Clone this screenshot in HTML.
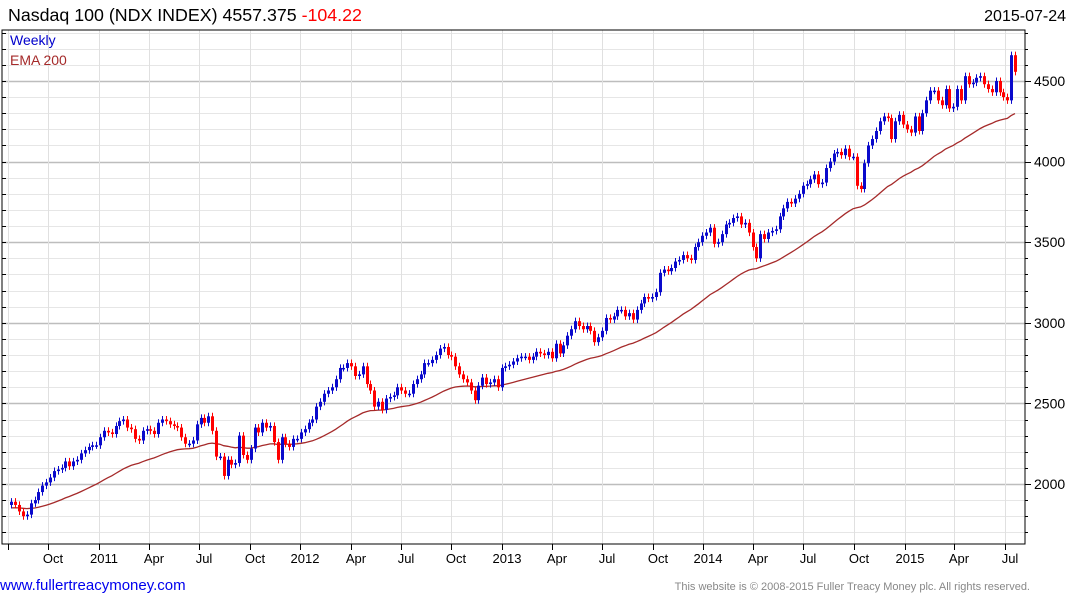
<!DOCTYPE html>
<html><head><meta charset="utf-8"><style>
html,body{margin:0;padding:0;background:#fff;width:1075px;height:600px;overflow:hidden}
svg text{font-family:"Liberation Sans",Arial,sans-serif}
</style></head><body>
<svg id="chart" width="1075" height="600" xmlns="http://www.w3.org/2000/svg">
<text x="8" y="21" font-size="17.8" fill="#000">Nasdaq 100 (NDX INDEX) 4557.375 <tspan fill="#ff0000">-104.22</tspan></text>
<text x="1066" y="21" font-size="16" text-anchor="end" fill="#000">2015-07-24</text>
<g id="grid"></g>
<g id="ema"></g>
<g id="candles"></g>
<rect x="2" y="30" width="1023" height="514" fill="none" stroke="#000" stroke-width="1"/>
<g id="axes"></g>
<text x="10" y="45" font-size="14" fill="#0000cc">Weekly</text>
<text x="10" y="65" font-size="14" fill="#a52a2a">EMA 200</text>
<text x="0" y="590" font-size="15" fill="#0000ee">www.fullertreacymoney.com</text>
<text x="1030" y="590" font-size="11" text-anchor="end" fill="#888">This website is © 2008-2015 Fuller Treacy Money plc. All rights reserved.</text>
</svg>
<script>
const closes2010 = [1890, 1870,1830,1800,1810, 1880,1900,1950,1990, 2010,2040,2080,2090,2100, 2140,2110,2140,2150, 2190,2210,2230,2240,2240];
const closes2011 = [2290,2330,2320,2310, 2360,2390,2400,2350, 2340,2280,2270,2330, 2340,2330,2310,2380,2400, 2390,2370,2360,2350, 2290,2250,2250,2270, 2370,2410,2380,2420,2330, 2170,2170,2050,2150, 2120,2130,2300,2180,2150, 2220,2350,2320,2380, 2350,2360,2260,2150, 2290,2250,2230,2280,2280];
const closes2012 = [2320,2340,2380,2400, 2480,2510,2560,2580, 2600,2650,2720,2720,2750, 2730,2670,2680,2730, 2620,2580,2480,2510, 2460,2530,2540,2550,2600, 2580,2560,2560,2620, 2650,2680,2750,2750,2770, 2800,2840,2850,2800, 2790,2730,2680,2650, 2630,2580,2520,2610,2660, 2620,2630,2650,2600];
const closes2013 = [2720,2730,2740,2760, 2780,2790,2790,2770, 2790,2820,2810,2800,2820, 2780,2870,2810,2860, 2920,2960,3010,2980,2960, 2980,2950,2880,2910, 2950,3030,3020,3040, 3080,3080,3040,3060,3020, 3080,3120,3160,3150, 3160,3190,3310,3330, 3320,3340,3380,3390,3420, 3400,3390,3470,3500];
const closes2014 = [3540,3560,3590,3490,3500, 3550,3610,3620,3650, 3660,3610,3620,3560, 3470,3400,3550,3520, 3560,3570,3580,3660,3710, 3750,3740,3770,3800, 3850,3860,3890,3920, 3860,3870,3960,4000,4050, 4060,4040,4080,4030, 4030,3850,3830,3990,4100, 4140,4190,4250,4280, 4270,4140,4250,4290];
const closes2015 = [4230,4200,4180,4280,4190, 4300,4380,4440,4440, 4380,4350,4450,4330, 4340,4450,4380,4530, 4480,4490,4520,4530,4480, 4450,4430,4500,4430, 4400,4380,4660,4557];
const firstOpen = 1870;
const emaSeed = 1850;
const emaPeriod = 44;
const yTicks = [2000,2500,3000,3500,4000,4500];
const xTickLabels = ["","Oct","2011","Apr","Jul","Oct","2012","Apr","Jul","Oct","2013","Apr","Jul","Oct","2014","Apr","Jul","Oct","2015","Apr","Jul"];
const xTickDates = ["2010-07-20","2010-10-01","2011-01-01","2011-04-01","2011-07-01","2011-10-01","2012-01-01","2012-04-01","2012-07-01","2012-10-01","2013-01-01","2013-04-01","2013-07-01","2013-10-01","2014-01-01","2014-04-01","2014-07-01","2014-10-01","2015-01-01","2015-04-01","2015-07-01"];

const closes = [].concat(closes2010,closes2011,closes2012,closes2013,closes2014,closes2015);
const N = closes.length;
const NS="http://www.w3.org/2000/svg";
const xLast=1015, step=3.86;
const yScale = v => 484 - (v-2000)*0.1612;
const xIdx = i => xLast - (N-1-i)*step;
const lastDate = Date.UTC(2015,6,20);
const xDate = s => { const p=s.split('-'); const d=Date.UTC(+p[0],+p[1]-1,+p[2]); return xLast + (d-lastDate)/86400000/7*step; };
function mk(tag,attrs,parent){const e=document.createElementNS(NS,tag);for(const k in attrs)e.setAttribute(k,attrs[k]);parent.appendChild(e);return e;}
const grid=document.getElementById('grid'), axes=document.getElementById('axes');
for(let v=1700; v<=4800; v+=100){
  const y=Math.round(yScale(v))+0.5;
  if(y<30||y>544) continue;
  const major = v%500===0;
  const l=mk('line',{x1:2,x2:1025,y1:y,y2:y,stroke:major?'#bdbdbd':'#e6e6e6','stroke-width':major?1.5:1},grid);
  
  
  const t1=mk('line',{x1:1025,x2:major?1031:1028,y1:y,y2:y,stroke:'#000'},axes);
  
  
  const t2=mk('line',{x1:2,x2:6,y1:y,y2:y,stroke:'#000'},axes);
  
  
}
yTicks.forEach(v=>{
  const t=mk('text',{x:1034,y:yScale(v)+5,'font-size':14,fill:'#000'},axes);
  t.textContent=v;
  
  
});
xTickDates.forEach((d,i)=>{
  const x=Math.round(xDate(d))+0.5;
  const l=mk('line',{x1:x,x2:x,y1:30,y2:544,stroke:'#e0e0e0'},grid);
  
  
  const tk=mk('line',{x1:x,x2:x,y1:544,y2:550,stroke:'#000'},axes);
  
  
  if(xTickLabels[i]){
    const t=mk('text',{x:x+4.5,y:563,'font-size':13,'text-anchor':'middle',fill:'#000'},axes);
    t.textContent=xTickLabels[i];
    
    
  }
});
const cg=document.getElementById('candles');
let prev=firstOpen;
for(let i=0;i<N;i++){
  const o=prev, c=closes[i];
  const up=c>=o, col=up?'#0a0acc':'#ff0000';
  const hi=Math.max(o,c)+22, lo=Math.min(o,c)-22;
  const x=Math.round(xIdx(i));
  const g=mk('g',{},cg);
  
  
  mk('line',{x1:x+0.5,x2:x+0.5,y1:yScale(hi),y2:yScale(lo),stroke:col,'stroke-width':1},g);
  const yt=yScale(Math.max(o,c)), yb=yScale(Math.min(o,c));
  mk('rect',{x:x-1,y:yt,width:3,height:Math.max(1.5,yb-yt),fill:col},g);
  prev=c;
}
const a=2/(emaPeriod+1);
let e=emaSeed, pts=[];
for(let i=0;i<N;i++){ e = e + a*(closes[i]-e); pts.push(xIdx(i).toFixed(1)+','+yScale(e).toFixed(1)); }
const pl=mk('polyline',{points:pts.join(' '),fill:'none',stroke:'#a52a2a','stroke-width':1.3},document.getElementById('ema'));


</script>
</body></html>
